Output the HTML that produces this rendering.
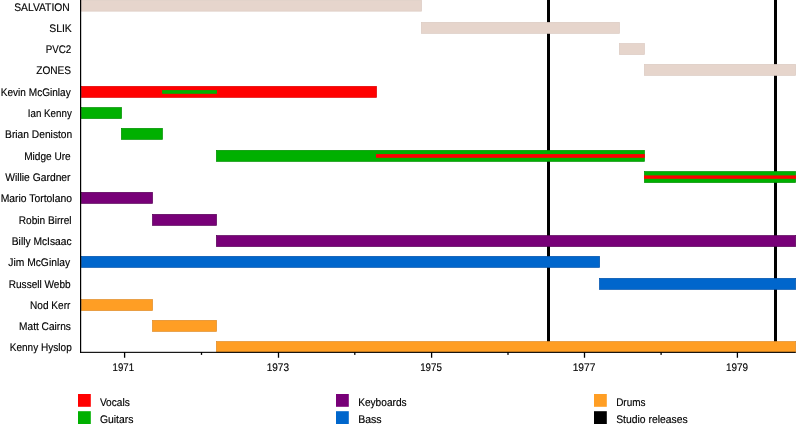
<!DOCTYPE html>
<html><head><meta charset="utf-8"><title>Timeline</title>
<style>
html,body{margin:0;padding:0;background:#fff;}
body{width:800px;height:432px;overflow:hidden;}
svg{display:block;will-change:transform;transform:translateZ(0);}
text{font-family:"Liberation Sans",Arial,Helvetica,sans-serif;font-size:11px;fill:#000;text-rendering:geometricPrecision;stroke:#000;stroke-width:0.15px;}
</style></head><body>
<svg width="800" height="432" viewBox="0 0 800 432">
<rect x="0" y="0" width="800" height="432" fill="#fff"/>
<rect x="547" y="0" width="3" height="352" fill="#000"/>
<rect x="774" y="0" width="3" height="352" fill="#000"/>
<rect x="81.35" y="0.15" width="340.20" height="11.00" fill="#e6d5cc" stroke="#dccbc2" stroke-width="0.7"/>
<rect x="421.35" y="22.35" width="198.10" height="11.00" fill="#e6d5cc" stroke="#dccbc2" stroke-width="0.7"/>
<rect x="619.35" y="43.55" width="25.10" height="11.00" fill="#e6d5cc" stroke="#dccbc2" stroke-width="0.7"/>
<rect x="644.35" y="64.35" width="151.30" height="11.00" fill="#e6d5cc" stroke="#dccbc2" stroke-width="0.7"/>
<rect x="81.35" y="86.35" width="295.20" height="11.00" fill="#ff0000" stroke="#e00000" stroke-width="0.7"/>
<rect x="162.1" y="90.10" width="54.80" height="3.7" fill="#00b000"/>
<rect x="81.35" y="107.55" width="40.20" height="11.00" fill="#00b000" stroke="#009000" stroke-width="0.7"/>
<rect x="121.35" y="128.35" width="41.10" height="11.00" fill="#00b000" stroke="#009000" stroke-width="0.7"/>
<rect x="216.35" y="150.35" width="428.10" height="11.00" fill="#00b000" stroke="#009000" stroke-width="0.7"/>
<rect x="376" y="154.10" width="268.80" height="3.7" fill="#ff0000"/>
<rect x="644.35" y="171.55" width="151.30" height="11.00" fill="#00b000" stroke="#009000" stroke-width="0.7"/>
<rect x="644" y="175.40" width="152.00" height="3.4" fill="#ff0000"/>
<rect x="81.35" y="192.35" width="71.20" height="11.00" fill="#780078" stroke="#580058" stroke-width="0.7"/>
<rect x="152.45" y="214.35" width="64.10" height="11.00" fill="#780078" stroke="#580058" stroke-width="0.7"/>
<rect x="216.35" y="235.55" width="579.30" height="11.00" fill="#780078" stroke="#580058" stroke-width="0.7"/>
<rect x="81.35" y="256.35" width="518.30" height="11.00" fill="#0066cc" stroke="#0052ac" stroke-width="0.7"/>
<rect x="599.45" y="278.35" width="196.20" height="11.00" fill="#0066cc" stroke="#0052ac" stroke-width="0.7"/>
<rect x="81.35" y="299.55" width="71.20" height="11.00" fill="#ff9e24" stroke="#e08c28" stroke-width="0.7"/>
<rect x="152.45" y="320.35" width="64.10" height="11.00" fill="#ff9e24" stroke="#e08c28" stroke-width="0.7"/>
<rect x="216.35" y="341.55" width="579.30" height="10.50" fill="#ff9e24" stroke="#e08c28" stroke-width="0.7"/>
<rect x="80" y="0" width="1.2" height="352.9" fill="#000"/>
<rect x="80" y="351.8" width="715.8" height="1.1" fill="#000"/>
<rect x="123.95" y="352" width="1.3" height="5.75" fill="#000"/>
<rect x="277.85" y="352" width="1.3" height="5.75" fill="#000"/>
<rect x="430.95" y="352" width="1.3" height="5.75" fill="#000"/>
<rect x="583.85" y="352" width="1.3" height="5.75" fill="#000"/>
<rect x="736.75" y="352" width="1.3" height="5.75" fill="#000"/>
<rect x="200.85" y="352" width="1.3" height="2.9" fill="#000"/>
<rect x="354.15" y="352" width="1.3" height="2.9" fill="#000"/>
<rect x="507.35" y="352" width="1.3" height="2.9" fill="#000"/>
<rect x="660.45" y="352" width="1.3" height="2.9" fill="#000"/>
<rect x="78" y="394.0" width="12.8" height="12.8" fill="#ff0000"/>
<rect x="78" y="411.2" width="12.8" height="12.8" fill="#00b000"/>
<rect x="336" y="394.0" width="12.8" height="12.8" fill="#780078"/>
<rect x="336" y="411.2" width="12.8" height="12.8" fill="#0066cc"/>
<rect x="594" y="394.0" width="12.8" height="12.8" fill="#ff9e24"/>
<rect x="594" y="411.2" width="12.8" height="12.8" fill="#000"/>
<text x="14.18" y="10.70" textLength="55.58" lengthAdjust="spacingAndGlyphs">SALVATION</text>
<text x="49.18" y="31.80" textLength="22.66" lengthAdjust="spacingAndGlyphs">SLIK</text>
<text x="45.68" y="53.00" textLength="25.54" lengthAdjust="spacingAndGlyphs">PVC2</text>
<text x="36.26" y="73.80" textLength="34.87" lengthAdjust="spacingAndGlyphs">ZONES</text>
<text x="0.72" y="95.80" textLength="70.03" lengthAdjust="spacingAndGlyphs">Kevin McGinlay</text>
<text x="27.76" y="117.00" textLength="44.03" lengthAdjust="spacingAndGlyphs">Ian Kenny</text>
<text x="5.10" y="137.80" textLength="67.13" lengthAdjust="spacingAndGlyphs">Brian Deniston</text>
<text x="24.14" y="159.80" textLength="46.55" lengthAdjust="spacingAndGlyphs">Midge Ure</text>
<text x="5.22" y="181.00" textLength="65.31" lengthAdjust="spacingAndGlyphs">Willie Gardner</text>
<text x="0.72" y="201.80" textLength="71.26" lengthAdjust="spacingAndGlyphs">Mario Tortolano</text>
<text x="18.68" y="223.80" textLength="52.94" lengthAdjust="spacingAndGlyphs">Robin Birrel</text>
<text x="11.76" y="245.00" textLength="59.88" lengthAdjust="spacingAndGlyphs">Billy McIsaac</text>
<text x="8.26" y="265.80" textLength="61.83" lengthAdjust="spacingAndGlyphs">Jim McGinlay</text>
<text x="8.76" y="287.80" textLength="61.93" lengthAdjust="spacingAndGlyphs">Russell Webb</text>
<text x="30.10" y="309.00" textLength="40.29" lengthAdjust="spacingAndGlyphs">Nod Kerr</text>
<text x="19.10" y="329.80" textLength="51.82" lengthAdjust="spacingAndGlyphs">Matt Cairns</text>
<text x="9.76" y="351.00" textLength="61.98" lengthAdjust="spacingAndGlyphs">Kenny Hyslop</text>
<text x="112.60" y="370.60" textLength="21.42" lengthAdjust="spacingAndGlyphs">1971</text>
<text x="266.64" y="370.60" textLength="22.39" lengthAdjust="spacingAndGlyphs">1973</text>
<text x="420.18" y="370.60" textLength="21.69" lengthAdjust="spacingAndGlyphs">1975</text>
<text x="572.64" y="370.60" textLength="22.81" lengthAdjust="spacingAndGlyphs">1977</text>
<text x="725.89" y="370.60" textLength="22.11" lengthAdjust="spacingAndGlyphs">1979</text>
<text x="99.89" y="405.60" textLength="30.02" lengthAdjust="spacingAndGlyphs">Vocals</text>
<text x="99.89" y="422.80" textLength="33.49" lengthAdjust="spacingAndGlyphs">Guitars</text>
<text x="358.14" y="405.60" textLength="48.51" lengthAdjust="spacingAndGlyphs">Keyboards</text>
<text x="358.14" y="422.80" textLength="23.49" lengthAdjust="spacingAndGlyphs">Bass</text>
<text x="616.14" y="405.60" textLength="29.30" lengthAdjust="spacingAndGlyphs">Drums</text>
<text x="616.14" y="422.80" textLength="71.59" lengthAdjust="spacingAndGlyphs">Studio releases</text>
</svg></body></html>
